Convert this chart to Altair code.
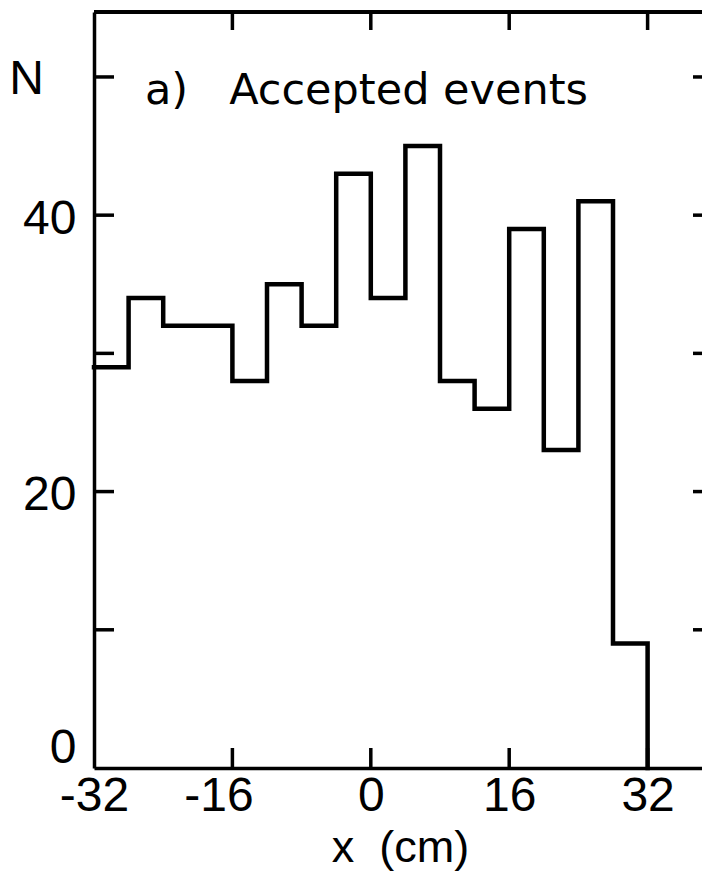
import altair as alt
import pandas as pd

# ---- data ----
bin_left = [-32, -28, -24, -20, -16, -12, -8, -4, 0, 4, 8, 12, 16, 20, 24, 28]
counts = [29, 34, 32, 32, 28, 35, 32, 43, 34, 45, 28, 26, 39, 23, 41, 9]
bin_width = 4
x_label_values = [-32, -16, 0, 16, 32]
x_tick_values = [-16, 0, 16, 32]
y_label_values = [0, 20, 40]
y_tick_values = [10, 20, 30, 40, 50]
NB = "\u00a0"
annotation = ["a)" + NB * 3 + "Accepted" + NB + "events"]
x_title = "x" + NB * 2 + "(cm)"
y_title = "N"

# ---- layout ----
W, H = 608, 756
x_domain = [-32, -32 + W / 8.65]
y_domain = [0, 54.7]
font_ax = "Liberation Sans"

last_edge = bin_left[-1] + bin_width
step = pd.DataFrame({
    "x": bin_left + [last_edge, last_edge],
    "n": counts + [counts[-1], 0],
})
step["i"] = range(len(step))

xscale = alt.Scale(domain=x_domain, nice=False, zero=False)
yscale = alt.Scale(domain=y_domain, nice=False, zero=False)

hist = alt.Chart(step).mark_line(
    interpolate="step-after", color="black", strokeWidth=4.5,
    strokeJoin="miter", strokeCap="square"
).encode(
    x=alt.X("x:Q", scale=xscale, axis=alt.Axis(
        values=x_label_values, title=x_title, grid=False, ticks=False, tickSize=0,
        domainColor="black", domainWidth=3.5,
        labelExpr="toString(datum.value)", labelOverlap=False, labelFlush=False,
        labelFont=font_ax, labelFontSize=48, labelColor="black", labelPadding=4,
        labelOffset={"condition": {"test": "datum.value == -16", "value": -14}, "value": 0},
        titleFont=font_ax, titleFontSize=45, titleFontWeight="normal", titleColor="black",
        titleX=306, titleY=93, titleAlign="center", titleBaseline="alphabetic",
    )),
    y=alt.Y("n:Q", scale=yscale, axis=alt.Axis(
        values=y_label_values, title=y_title, grid=False, ticks=False, tickSize=0,
        domainColor="black", domainWidth=3.5, labelOverlap=False,
        labelFont=font_ax, labelFontSize=48, labelColor="black", labelPadding=18,
        labelFlush=2, labelOffset=4,
        titleFont=font_ax, titleFontSize=48, titleFontWeight="normal", titleColor="black",
        titleAngle=0, titleX=-68, titleY=81, titleAlign="center", titleBaseline="alphabetic",
    )),
    order=alt.Order("i:Q"),
)

xt = pd.DataFrame({"x": x_tick_values})
yt = pd.DataFrame({"y": y_tick_values})
tick_style = dict(color="black", strokeWidth=3.5, strokeCap="butt")

bottom_ticks = alt.Chart(xt).mark_rule(**tick_style).encode(
    x=alt.X("x:Q", scale=xscale), y=alt.value(H), y2=alt.value(H - 20))
top_ticks = alt.Chart(xt).mark_rule(**tick_style).encode(
    x=alt.X("x:Q", scale=xscale), y=alt.value(0), y2=alt.value(18))
left_ticks = alt.Chart(yt).mark_rule(**tick_style).encode(
    y=alt.Y("y:Q", scale=yscale), x=alt.value(0), x2=alt.value(20))
right_ticks = alt.Chart(yt).mark_rule(**tick_style).encode(
    y=alt.Y("y:Q", scale=yscale), x=alt.value(W - 9), x2=alt.value(W))
top_frame = alt.Chart(xt).mark_rule(color="black", strokeWidth=3.5).encode(
    x=alt.value(0), x2=alt.value(W), y=alt.value(0))

label = alt.Chart(pd.DataFrame({"t": annotation})).mark_text(
    font="DejaVu Sans", fontSize=43, color="black", align="left", baseline="alphabetic"
).encode(text="t:N", x=alt.value(51), y=alt.value(92))

chart = alt.layer(
    hist, bottom_ticks, top_ticks, left_ticks, right_ticks, top_frame, label
).properties(
    width=W, height=H,
    autosize=alt.AutoSizeParams(type="none"),
    padding={"left": 86, "top": 4, "right": 0, "bottom": 104},
).configure_view(stroke=None).configure(background="white")

chart.save("out.html", embed_options={"renderer": "svg", "actions": False})
